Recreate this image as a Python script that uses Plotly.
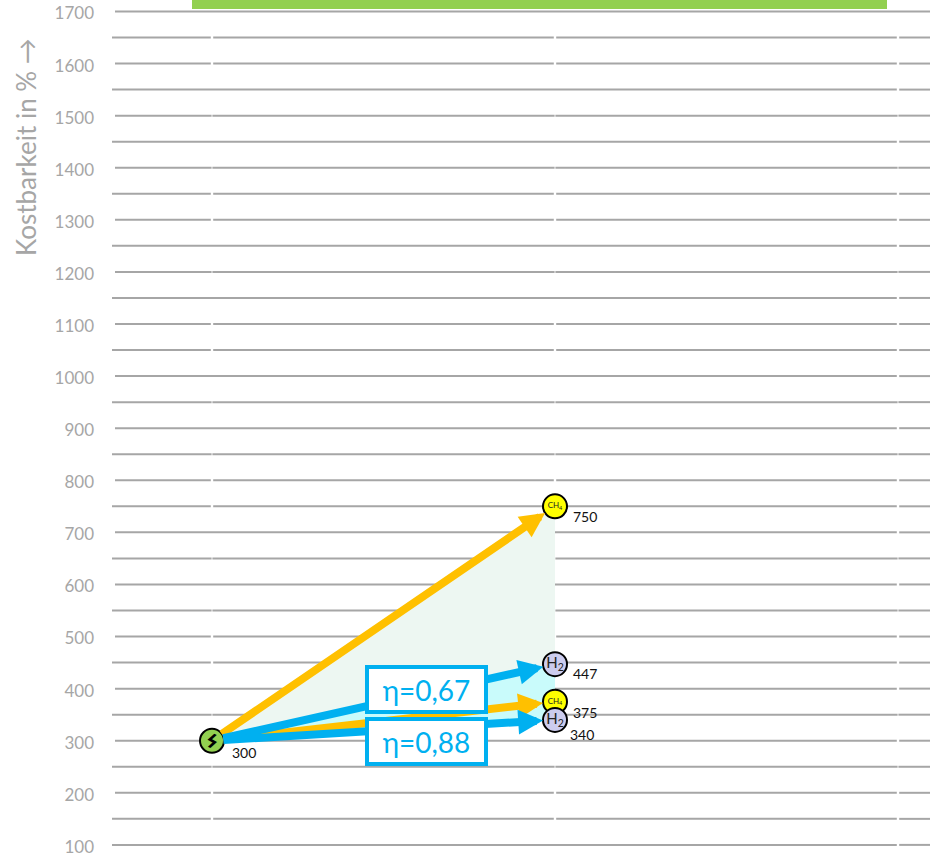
import plotly.graph_objects as go

# --- data ---
levels = [100 + 50 * i for i in range(33)]
major_levels = [100 * i for i in range(1, 18)]
wide_gap_levels = [1650, 1600, 1350, 1300, 1100, 1050, 800, 750, 500, 450, 200, 150]
small_gap_levels = [1500, 1400, 1200, 950, 850, 650, 550, 350, 250]
origin_value = 300
target_values = [750, 447, 375, 340]
target_labels = ["CH<sub>4</sub>", "H<sub>2</sub>", "CH<sub>4</sub>", "H<sub>2</sub>"]
target_fill = ["#ffff00", "#ccccee", "#ffff00", "#ccccee"]
arrow_colors = ["#ffc000", "#00b0f0", "#ffc000", "#00b0f0"]
eta_labels = ["η=0,67", "η=0,88"]
eta_values = [398, 299]
bar_base = [1704]
bar_height = [30]

GREY = "#a6a6a6"
BLUE = "#00b0f0"
FONT = "Lato, 'Open Sans', sans-serif"

# px = 212 + 343 * x ; py = 844.9 - (v - 100) * 0.5209
SCALE = 0.5209
X0, X1 = 0, 1
XMIN = (112 - 212) / 343
XMAX = (930 - 212) / 343
YMIN = 100 - (855 - 844.9) / SCALE
YMAX = 100 + 844.9 / SCALE

fig = go.Figure()

# green bar clipped by the top of the plot
fig.add_trace(go.Bar(x=[(192 + 887) / 2 / 343 - 212 / 343], y=bar_height, base=bar_base,
                     width=[(887 - 192) / 343], marker=dict(color="#92d050", line_width=0),
                     hoverinfo="skip"))

# gridlines, broken where the category boundaries sit
gx, gy = [], []
breaks = [0, 1, 2]
for lv in levels:
    start = (115 - 212) / 343 if lv in major_levels and lv != 100 else XMIN
    xs = [start]
    if lv in wide_gap_levels or lv in small_gap_levels:
        gap = (1.2 if lv in wide_gap_levels else 0.4) / 343
        for b in breaks:
            xs += [b - gap, None, b + gap]
    elif lv != 1700:
        xs += [2 - 1.2 / 343, None, 2 + 1.2 / 343]
    xs += [XMAX]
    gx += xs + [None]
    gy += [None if x is None else lv for x in xs] + [None]
fig.add_trace(go.Scatter(x=gx, y=gy, mode="lines", line=dict(color=GREY, width=2),
                         hoverinfo="skip", connectgaps=False))

# shaded wedges
fig.add_trace(go.Scatter(x=[X0, X1, X1, X0], y=[origin_value, target_values[0], target_values[1], origin_value],
                         mode="lines", fill="toself", fillcolor="#edf7f2", line_width=0, hoverinfo="skip"))
fig.add_trace(go.Scatter(x=[X0, X1, X1, X0], y=[origin_value, target_values[1], target_values[3], origin_value],
                         mode="lines", fill="toself", fillcolor="#c9fbfb", line_width=0, hoverinfo="skip"))

# nodes
fig.add_trace(go.Scatter(x=[X0], y=[origin_value], mode="markers",
                         marker=dict(size=24, color="#92d050", line=dict(color="#000000", width=2)),
                         hoverinfo="skip"))
for i in [0, 2, 1, 3]:
    fig.add_trace(go.Scatter(x=[X1], y=[target_values[i]], mode="markers+text", text=[target_labels[i]],
                             textposition="middle center",
                             textfont=dict(family=FONT, size=8 if i in (0, 2) else 15, color="#222222"),
                             marker=dict(size=24, color=target_fill[i], line=dict(color="#000000", width=2)),
                             hoverinfo="skip"))

ann = []
# arrows (their tails start at the edge of the origin node)
for i in [0, 2, 1, 3]:
    ann.append(dict(x=X1, y=target_values[i], ax=X0, ay=origin_value, xref="x", yref="y", axref="x", ayref="y",
                    text="", showarrow=True, arrowhead=2, arrowsize=0.62, arrowwidth=8, startstandoff=10,
                    arrowcolor=arrow_colors[i], standoff=12))
# lightning bolt on the origin node
ann.append(dict(x=X0, y=origin_value, xref="x", yref="y", text="<b>ϟ</b>", showarrow=False, textangle=30,
                font=dict(family="DejaVu Sans", size=19, color="#000000")))
# efficiency boxes
for lbl, v in zip(eta_labels, eta_values):
    ann.append(dict(x=(426.5 - 212) / 343, y=v, xref="x", yref="y", text=lbl, showarrow=False,
                    width=115, height=41, bgcolor="#ffffff", bordercolor=BLUE, borderwidth=4, borderpad=0,
                    font=dict(family=FONT, size=28, color=BLUE)))
# value labels
ann.append(dict(x=X0, y=origin_value, xref="x", yref="y", text=str(origin_value), showarrow=False,
                xshift=32, yshift=-12, font=dict(family=FONT, size=14, color="#111111")))
for i, (dx, dy) in enumerate([(30, -10), (30, -9), (30, -11), (27, -15)]):
    ann.append(dict(x=X1, y=target_values[i], xref="x", yref="y", text=str(target_values[i]), showarrow=False,
                    xshift=dx, yshift=dy, font=dict(family=FONT, size=14, color="#111111")))
# axis title
ann.append(dict(x=(26 - 112) / (930 - 112), y=1 - 147 / 855, xref="paper", yref="paper", showarrow=False,
                xanchor="center", yanchor="middle", text="Kostbarkeit in % →",
                textangle=-90, font=dict(family=FONT, size=26, color=GREY)))

fig.update_layout(
    width=930, height=855, margin=dict(l=112, r=0, t=0, b=0, autoexpand=False), showlegend=False,
    paper_bgcolor="#ffffff", plot_bgcolor="#ffffff", annotations=ann, bargap=0,
    xaxis=dict(range=[XMIN, XMAX], showgrid=False, zeroline=False, showticklabels=False, ticks=""),
    yaxis=dict(range=[YMIN, YMAX], tickmode="array", tickvals=major_levels, ticktext=[str(v) for v in major_levels],
               showgrid=False, zeroline=False, showline=False, ticks="", ticklabelstandoff=17, ticklabelshift=2,
               automargin=False, ticklabeloverflow="allow", tickfont=dict(family=FONT, size=17, color=GREY)),
)
fig.write_html("out.html", config={"displayModeBar": False},
               post_script="document.body.style.margin='0';document.body.style.overflow='hidden';")
